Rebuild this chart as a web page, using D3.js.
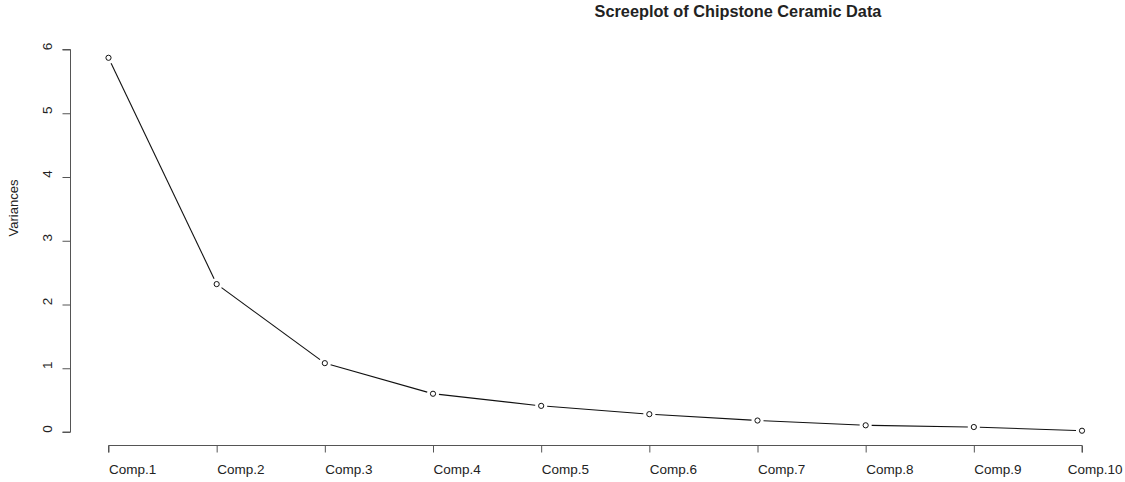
<!DOCTYPE html>
<html>
<head>
<meta charset="utf-8">
<script src="https://cdn.jsdelivr.net/npm/d3@7"></script>
<style>
  html, body { margin: 0; padding: 0; background: #fff; overflow: hidden; }
  text { font-family: "Liberation Sans", Arial, Helvetica, sans-serif; fill: #222; }
</style>
</head>
<body>
<div id="chart"></div>
<script>
// screeplot values
const components = ['Comp.1', 'Comp.2', 'Comp.3', 'Comp.4', 'Comp.5', 'Comp.6', 'Comp.7', 'Comp.8', 'Comp.9', 'Comp.10'];
const variances = [5.87, 2.32, 1.08, 0.60, 0.41, 0.28, 0.18, 0.105, 0.078, 0.02];
const yTicks = [0, 1, 2, 3, 4, 5, 6];

const width = 1125, height = 482;

const svg = d3.select('#chart').append('svg')
  .attr('width', width)
  .attr('height', height);

// scales
const x = d3.scalePoint().domain(components).range([108.5, 1082]);
const y = d3.scaleLinear().domain([0, 6]).range([432, 49.5]);

const axisColor = '#555';

// y axis (ticks outward, rotated labels)
const yAxis = svg.append('g')
  .attr('transform', 'translate(70.5,0)')
  .call(d3.axisLeft(y).tickValues(yTicks).tickSize(8).tickPadding(0).tickFormat(d3.format('d')));
yAxis.select('.domain').attr('stroke', axisColor).attr('d', `M-8,${y(0)}H0V${y(6)}H-8`);
yAxis.selectAll('.tick line').attr('stroke', axisColor);
yAxis.selectAll('.tick text')
  .attr('x', null).attr('dy', null)
  .attr('transform', 'translate(-19,-3.5) rotate(-90)')
  .attr('text-anchor', 'middle')
  .style('font-size', '13.5px')
  .style('font-family', '"Liberation Sans", Arial, sans-serif')
  .attr('fill', '#222');

// x axis - labels start at their tick, last one kept inside the page
const last = components.length - 1;
const xAxis = svg.append('g')
  .attr('transform', 'translate(0,445.5)')
  .call(d3.axisBottom(x).tickSize(7).tickPadding(12));
xAxis.select('.domain').attr('stroke', axisColor).attr('d', `M${x(components[0])},7V0H${x(components[last])}V7`);
xAxis.selectAll('.tick line').attr('stroke', axisColor);
xAxis.selectAll('.tick text')
  .style('font-size', '13.5px')
  .style('font-family', '"Liberation Sans", Arial, sans-serif')
  .attr('fill', '#222')
  .attr('text-anchor', (d, i) => i === last ? 'end' : 'start')
  .attr('x', (d, i) => i === last ? width - 3 - x(d) : 0);

// axis title
svg.append('text')
  .attr('transform', 'translate(18,208) rotate(-90)')
  .attr('text-anchor', 'middle')
  .style('font-size', '13px')
  .attr('fill', '#444')
  .text('Variances');

// main title
svg.append('text')
  .attr('x', 738)
  .attr('y', 17)
  .attr('text-anchor', 'middle')
  .style('font-size', '16.3px')
  .style('font-weight', 'bold')
  .text('Screeplot of Chipstone Ceramic Data');

// line segments with gaps around points (type = "b")
const pts = components.map((c, i) => [x(c), y(variances[i])]);
const gap = 6;
const segs = d3.pairs(pts).map(([a, b]) => {
  const dx = b[0] - a[0], dy = b[1] - a[1];
  const len = Math.sqrt(dx * dx + dy * dy);
  const ux = dx / len, uy = dy / len;
  return [a[0] + ux * gap, a[1] + uy * gap, b[0] - ux * gap, b[1] - uy * gap];
});

svg.append('g').selectAll('line')
  .data(segs)
  .enter().append('line')
  .attr('x1', d => d[0]).attr('y1', d => d[1])
  .attr('x2', d => d[2]).attr('y2', d => d[3])
  .attr('stroke', '#111')
  .attr('stroke-width', 1.1);

svg.append('g').selectAll('circle')
  .data(variances)
  .enter().append('circle')
  .attr('cx', (d, i) => x(components[i]))
  .attr('cy', d => y(d))
  .attr('r', 2.6)
  .attr('fill', 'none')
  .attr('stroke', '#111')
  .attr('stroke-width', 1);
</script>
</body>
</html>
